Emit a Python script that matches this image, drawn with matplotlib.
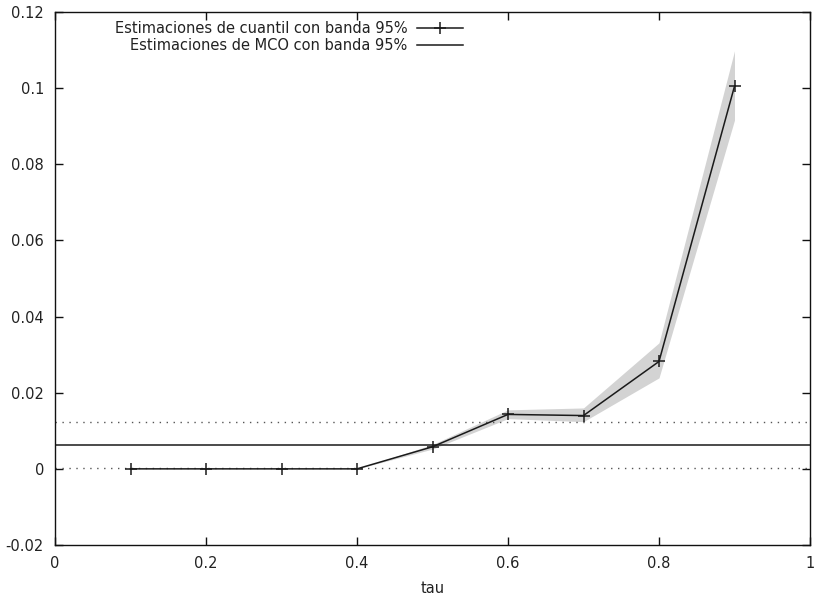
import matplotlib
matplotlib.use("Agg")
import matplotlib.pyplot as plt
from matplotlib.ticker import FormatStrFormatter

tau = [0.1, 0.2, 0.3, 0.4, 0.5, 0.6, 0.7, 0.8, 0.9]
qr_coef = [0.0, 0.0, 0.0, 0.0, 0.0058, 0.0143, 0.0140, 0.0282, 0.1005]
qr_lo = [0.0, 0.0, 0.0, 0.0, 0.0052, 0.0132, 0.0124, 0.0239, 0.0916]
qr_hi = [0.0, 0.0, 0.0, 0.0, 0.0064, 0.0155, 0.0160, 0.0331, 0.1098]
ols_coef = 0.0063
ols_lo = 0.0002
ols_hi = 0.0123

xticks = [0, 0.2, 0.4, 0.6, 0.8, 1]
yticks = [-0.02, 0, 0.02, 0.04, 0.06, 0.08, 0.1, 0.12]

plt.rcParams['font.family'] = ['DejaVu Sans']
plt.rcParams['font.size'] = 10.5
plt.rcParams['text.color'] = '#222222'

fig = plt.figure(figsize=(8.22, 6.03), dpi=100)
ax = fig.add_axes([55/822, 58/603, 755/822, 533/603])

ax.fill_between(tau, qr_lo, qr_hi, color='#d3d3d3', linewidth=0, zorder=1)
ax.plot(tau, qr_coef, color='#1a1a1a', linewidth=1.1, marker='+', markersize=8,
        markeredgewidth=1.1, label='Estimaciones de cuantil con banda 95%', zorder=3)
ax.axhline(ols_coef, color='#1a1a1a', linewidth=1.1,
           label='Estimaciones de MCO con banda 95%', zorder=2)
ax.axhline(ols_lo, color='#555555', linewidth=1.0, linestyle=(0, (1, 4)), zorder=2)
ax.axhline(ols_hi, color='#555555', linewidth=1.0, linestyle=(0, (1, 4)), zorder=2)

ax.set_xlim(0, 1)
ax.set_ylim(-0.02, 0.12)
ax.set_xticks(xticks)
ax.set_yticks(yticks)
ax.xaxis.set_major_formatter(FormatStrFormatter('%g'))
ax.yaxis.set_major_formatter(FormatStrFormatter('%g'))
ax.tick_params(direction='in', length=6, width=1, top=True, right=True,
               labelsize=10.5, pad=8, color='#111111', labelcolor='#222222')
for s in ax.spines.values():
    s.set_linewidth(1.0)
    s.set_color('#111111')
ax.set_xlabel('tau', fontsize=10.5, labelpad=7, color='#222222')

leg = ax.legend(loc='upper right', bbox_to_anchor=(0.540, 0.983), frameon=False,
                markerfirst=False, handlelength=3.1, handletextpad=0.7,
                labelspacing=0.12, fontsize=10.5, borderaxespad=0, borderpad=0)

fig.savefig('out.png', dpi=100)
